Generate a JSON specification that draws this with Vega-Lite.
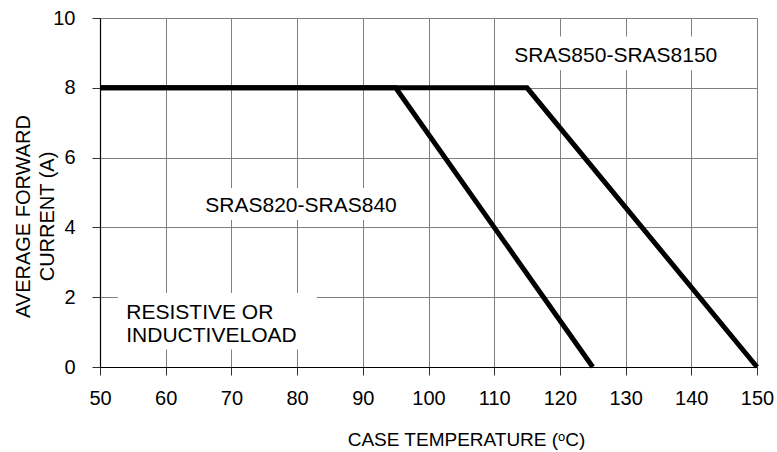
{
  "$schema": "https://vega.github.io/schema/vega-lite/v6.json",
  "width": 657,
  "height": 349,
  "autosize": "none",
  "padding": {"left": 100, "top": 18, "right": 20, "bottom": 85},
  "background": "white",
  "config": {
    "view": {"stroke": null},
    "font": "Liberation Sans",
    "axis": {
      "labelFont": "Liberation Sans",
      "titleFont": "Liberation Sans",
      "labelFontSize": 20,
      "titleFontWeight": "normal",
      "labelColor": "black",
      "titleColor": "black",
      "domainColor": "black",
      "domainWidth": 1.2,
      "tickColor": "#333333",
      "tickSize": 8,
      "gridColor": "#808080",
      "gridWidth": 1,
      "gridOpacity": 1
    }
  },
  "datasets": {
    "curves": [
      {"series": "SRAS820-SRAS840", "temp": 50, "current": 8},
      {"series": "SRAS820-SRAS840", "temp": 95, "current": 8},
      {"series": "SRAS820-SRAS840", "temp": 125, "current": 0},
      {"series": "SRAS850-SRAS8150", "temp": 50, "current": 8},
      {"series": "SRAS850-SRAS8150", "temp": 115, "current": 8},
      {"series": "SRAS850-SRAS8150", "temp": 150, "current": 0}
    ],
    "boxes": [
      {"x1": 111.6, "x2": 145.5, "y1": 8.5, "y2": 9.47},
      {"x1": 65.2, "x2": 96.3, "y1": 4.21, "y2": 5.13},
      {"x1": 52.7, "x2": 83.0, "y1": 0.5, "y2": 2.12}
    ],
    "centerLabels": [
      {"text": "SRAS850-SRAS8150", "x": 128.5, "y": 8.92},
      {"text": "SRAS820-SRAS840", "x": 80.6, "y": 4.6}
    ],
    "leftLabels": [
      {"text": "RESISTIVE OR", "x": 54.0, "y": 1.56},
      {"text": "INDUCTIVELOAD", "x": 54.0, "y": 0.89}
    ]
  },
  "layer": [
    {
      "data": {"name": "curves"},
      "mark": {"type": "line", "color": "black", "strokeWidth": 5, "clip": false, "strokeJoin": "miter", "strokeCap": "butt"},
      "encoding": {
        "x": {
          "field": "temp", "type": "quantitative",
          "scale": {"domain": [50, 150], "nice": false, "zero": false},
          "axis": {
            "values": [50, 60, 70, 80, 90, 100, 110, 120, 130, 140, 150],
            "title": "CASE TEMPERATURE (ᵒC)",
            "titleFontSize": 19,
            "titleX": 366,
            "titleY": 78,
            "titleBaseline": "alphabetic",
            "titleAlign": "center",
            "labelPadding": 13,
            "labelFlush": false,
            "labelOverlap": false
          }
        },
        "y": {
          "field": "current", "type": "quantitative",
          "scale": {"domain": [0, 10], "nice": false},
          "axis": {
            "values": [0, 2, 4, 6, 8, 10],
            "title": ["AVERAGE FORWARD", "CURRENT (A)"],
            "titleFontSize": 20,
            "titleLineHeight": 24,
            "titleX": -67,
            "titleY": 198,
            "titleAngle": -90,
            "titleAlign": "center",
            "titleBaseline": "bottom",
            "labelPadding": 17,
            "labelFlush": false
          }
        },
        "detail": {"field": "series"}
      }
    },
    {
      "data": {"name": "boxes"},
      "mark": {"type": "rect", "color": "white", "opacity": 1},
      "encoding": {
        "x": {"field": "x1", "type": "quantitative"},
        "x2": {"field": "x2"},
        "y": {"field": "y1", "type": "quantitative"},
        "y2": {"field": "y2"}
      }
    },
    {
      "data": {"name": "centerLabels"},
      "mark": {"type": "text", "font": "Liberation Sans", "fontSize": 21, "color": "black", "baseline": "middle", "align": "center"},
      "encoding": {
        "x": {"field": "x", "type": "quantitative"},
        "y": {"field": "y", "type": "quantitative"},
        "text": {"field": "text"}
      }
    },
    {
      "data": {"name": "leftLabels"},
      "mark": {"type": "text", "font": "Liberation Sans", "fontSize": 21, "color": "black", "baseline": "middle", "align": "left"},
      "encoding": {
        "x": {"field": "x", "type": "quantitative"},
        "y": {"field": "y", "type": "quantitative"},
        "text": {"field": "text"}
      }
    }
  ]
}
